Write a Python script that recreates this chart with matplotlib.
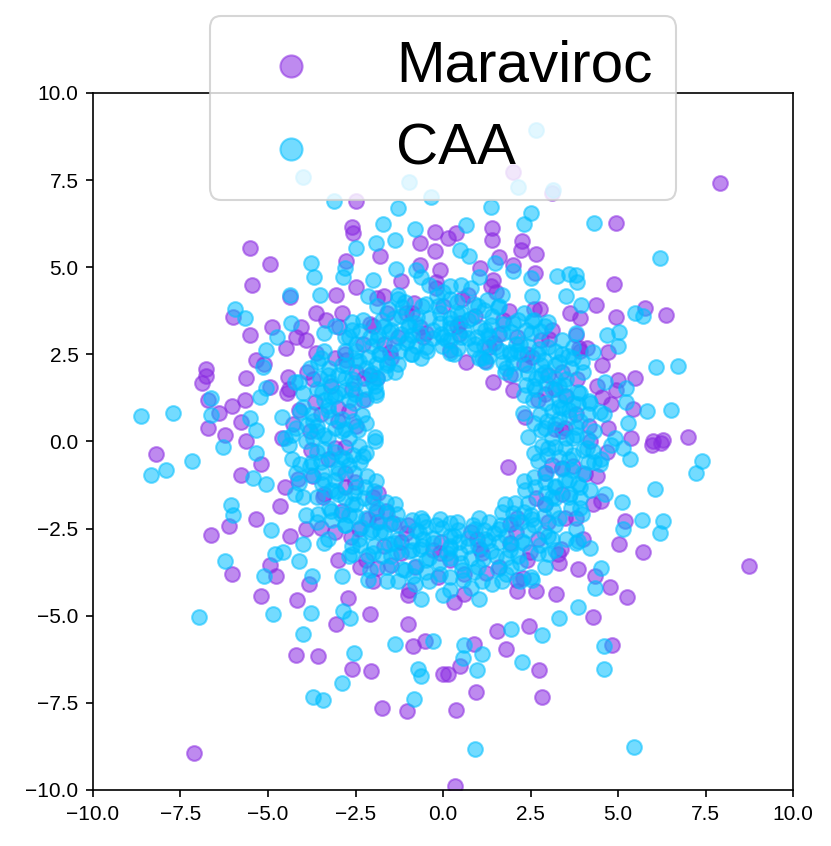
import matplotlib
matplotlib.use('Agg')
import matplotlib.pyplot as plt

plt.rcParams['font.family'] = ['Liberation Sans', 'DejaVu Sans']

# points (x, y), ring core + scattered outliers
maraviroc_pts = [
    # outliers / sparse
    (-5.52, 5.56), (-4.93, 5.08), (-5.47, 4.49), (-2.48, 6.91), (-2.59, 6.16), (-2.57, 5.99),
    (-0.24, 6.02), (-0.65, 5.70), (-0.24, 5.47), (-2.78, 5.18), (-1.81, 5.32), (-0.67, 5.06),
    (-4.38, 4.15), (-6.00, 3.58), (-3.62, 3.68), (-4.89, 3.29), (-5.52, 3.05), (-4.05, 3.29),
    (-4.19, 3.01), (-5.33, 2.34), (-5.12, 2.22), (-4.48, 2.67), (-6.76, 2.07), (-6.78, 1.88),
    (-6.88, 1.69), (-5.64, 1.81), (-6.71, 1.19), (-6.40, 0.81), (-6.02, 1.03), (-5.67, 1.19),
    (-6.71, 0.38), (-6.24, 0.19), (-5.76, 0.57), (-4.43, 1.86), (-4.46, 1.38), (-4.95, 1.57),
    (-3.05, 4.20), (-2.48, 4.44), (-1.90, 4.11), (-1.05, 3.68), (-3.62, 2.53), (-2.76, 2.34),
    (-1.90, 1.81), (-2.48, 0.43), (-2.29, 1.19), (-3.33, 3.49), (-0.10, 4.92),
    (7.91, 7.42), (4.93, 6.28), (4.88, 4.51), (4.38, 3.92), (5.78, 3.82), (6.36, 3.63),
    (4.93, 3.58), (0.14, 5.83), (0.38, 5.97), (1.41, 6.12), (1.41, 5.78), (2.27, 5.75),
    (2.24, 5.49), (2.65, 5.38), (1.60, 5.30), (2.00, 5.06), (2.62, 4.84), (1.05, 4.99),
    (1.43, 4.63), (3.10, 7.12), (2.00, 7.73), (3.62, 3.68), (3.90, 3.53), (3.81, 3.06),
    (4.10, 2.67), (4.71, 2.58), (4.55, 2.19), (5.00, 1.76), (5.48, 1.81), (4.95, 1.48),
    (5.43, 0.92), (4.81, 1.08), (7.00, 0.14), (6.29, 0.04), (6.00, 0.00), (5.38, 0.09),
    (1.43, 1.72), (2.00, 1.48), (2.33, 0.71), (0.67, 2.29), (0.19, 2.63),
    (-8.19, -0.35), (-5.78, -0.97), (-5.35, -2.21), (-6.62, -2.68), (-6.10, -2.43),
    (-6.02, -3.79), (-5.19, -4.43), (-4.78, -3.86), (-4.95, -3.54), (-4.16, -4.55),
    (-4.21, -6.13), (-3.57, -6.16), (-3.07, -5.25), (-2.59, -6.54), (-2.05, -6.59),
    (-1.75, -7.64), (-1.02, -7.73), (-0.86, -5.87), (-7.10, -8.93), (-2.08, -4.96),
    (-2.71, -4.48), (-3.83, -4.10), (-4.67, -1.85), (-5.19, -0.66), (-5.62, 0.01),
    (0.00, -6.68), (-0.52, -5.72), (-1.00, -5.25), (-4.38, -2.71), (-1.86, -1.47),
    (-1.62, -1.99), (-1.43, -2.33), (-1.90, -3.62),
    (8.74, -3.57), (6.24, -0.03), (5.98, -0.10), (1.86, -0.73), (5.70, -3.16),
    (5.03, -2.93), (5.19, -2.28), (4.76, -4.18), (5.27, -4.46), (4.33, -3.86), (4.29, -5.03),
    (4.84, -5.84), (2.74, -6.55), (2.84, -7.33), (1.81, -5.96), (0.93, -7.18), (0.38, -7.71),
    (0.33, -9.89), (0.14, -6.68), (0.48, -6.44), (0.88, -5.82), (1.55, -5.44), (2.46, -5.29),
    (3.29, -3.24), (2.67, -4.29), (3.24, -4.39), (3.86, -3.67), (2.29, -3.91),
    # ring core
    (-1.3, 3.0), (-0.9, 3.7), (-0.5, 3.1), (0.0, 3.9), (0.4, 3.3), (0.9, 3.6), (1.3, 2.7),
    (1.7, 3.5), (2.1, 3.0), (2.4, 2.5), (2.8, 2.9), (3.0, 1.9), (3.4, 2.0), (3.5, 1.3),
    (3.8, 0.8), (3.4, 0.3), (4.2, 0.0), (3.7, -0.7), (4.4, -1.0), (3.4, -1.5), (3.8, -2.2),
    (3.0, -2.3), (2.7, -2.8), (2.4, -3.4), (1.9, -2.9), (1.6, -3.6), (1.1, -3.2), (0.6, -3.8),
    (0.2, -3.4), (-0.3, -3.1), (-0.8, -3.6), (-1.2, -3.2), (-1.7, -3.0), (-2.2, -3.4),
    (-2.4, -2.5), (-2.9, -2.0), (-3.1, -2.6), (-3.4, -1.5), (-3.7, -1.0), (-3.3, -0.5),
    (-3.8, 0.3), (-3.5, 0.8), (-4.1, 0.9), (-3.2, 1.6), (-3.7, 1.8), (-2.8, 2.5), (-2.3, 2.8),
    (-2.0, 3.3), (-1.6, 3.7), (-0.2, 4.4), (0.7, 4.2), (1.5, 4.3), (2.6, 3.8), (3.1, 3.2),
    (3.9, 2.6), (4.4, 1.6), (4.7, 0.4), (4.5, -1.7), (4.0, -2.8), (3.3, -3.5), (2.1, -4.3),
    (0.3, -4.6), (-1.0, -4.4), (-2.0, -4.0), (-3.0, -3.4), (-3.9, -2.5), (-4.5, -1.3),
    (-4.6, 0.1), (-4.4, 1.5), (-3.9, 2.9), (-2.9, 3.7), (-1.2, 4.6), (-2.6, 1.5), (-2.1, 1.9),
    (-1.5, 2.4), (1.9, 1.9), (2.7, 1.2), (2.9, -0.9), (2.1, -2.2), (-1.0, -2.4), (-2.0, -1.6),
    (-2.8, -0.9), (-3.0, 0.6), (0.8, -2.6), (-1.9, -2.3), (1.2, 2.3),
    (3.49, 0.39), (3.19, 1.50), (2.53, 2.43), (1.60, 3.09), (0.49, 3.39), (-0.65, 3.29),
    (-1.69, 2.80), (-2.50, 1.99), (-2.99, 0.95), (-3.09, -0.19), (-2.79, -1.30), (-2.13, -2.23),
    (-1.20, -2.89), (-0.09, -3.19), (1.05, -3.09), (2.09, -2.60), (2.90, -1.79), (3.39, -0.75),
    (3.19, 0.36), (2.92, 1.37), (2.32, 2.22), (1.47, 2.82), (0.46, 3.09), (-0.58, 3.00),
    (-1.52, 2.56), (-2.26, 1.82), (-2.70, 0.88), (-2.79, -0.16), (-2.52, -1.17), (-1.92, -2.02),
    (-1.07, -2.62), (-0.06, -2.89), (0.98, -2.80), (1.92, -2.36), (2.66, -1.62), (3.10, -0.68),
    (4.18, 0.45), (3.83, 1.79), (3.03, 2.93), (1.89, 3.73), (0.55, 4.08), (-0.84, 3.96),
    (-2.09, 3.38), (-3.08, 2.39), (-3.66, 1.14), (-3.78, -0.25), (-3.43, -1.59), (-2.63, -2.73),
    (-1.49, -3.53), (-0.15, -3.88), (1.24, -3.76), (2.49, -3.18), (3.48, -2.19), (4.06, -0.94),
    (4.55, 1.27), (3.89, 2.68), (2.78, 3.79), (1.37, 4.45), (-0.19, 4.58), (-1.70, 4.18),
    (-2.98, 3.28), (-3.88, 2.00), (-4.28, 0.49), (-4.15, -1.07), (-3.49, -2.48), (-2.38, -3.59),
    (-0.97, -4.25), (0.59, -4.38), (2.10, -3.98), (3.38, -3.08), (4.28, -1.80), (4.68, -0.29),
]

caa_pts = [
    # outliers / sparse
    (-3.12, 6.91), (-1.29, 6.69), (-1.71, 6.23), (-0.81, 6.09), (-1.92, 5.69), (-1.38, 5.78),
    (-2.50, 5.54), (-3.78, 5.11), (-3.69, 4.71), (-2.81, 4.97), (-2.86, 4.73), (-1.33, 4.94),
    (-0.78, 4.92), (-4.38, 4.20), (-5.95, 3.79), (-5.67, 3.55), (-3.52, 4.20), (-4.33, 3.41),
    (-4.73, 3.01), (-5.05, 2.63), (-5.14, 2.15), (-6.62, 1.24), (-5.05, 1.53), (-5.24, 1.29),
    (-8.62, 0.74), (-7.70, 0.83), (-6.62, 0.76), (-5.52, 0.66), (-5.33, 0.33), (-1.95, 0.14),
    (-1.92, 1.43), (-1.90, 1.81), (-2.00, 4.63), (-0.33, 7.02), (-4.00, 7.59), (-0.97, 7.45),
    (1.36, 6.74), (2.52, 6.57), (2.31, 6.24), (0.67, 6.21), (4.31, 6.28), (6.21, 5.27),
    (2.14, 7.31), (3.14, 7.22), (2.66, 8.94), (0.48, 5.49), (0.74, 5.32), (1.48, 5.13),
    (2.00, 4.90), (3.26, 4.76), (3.60, 4.80), (3.81, 4.78), (3.83, 4.59), (3.50, 4.18),
    (3.95, 3.92), (2.50, 4.68), (5.48, 3.70), (5.70, 3.60), (4.69, 3.06), (5.03, 3.15),
    (5.00, 2.74), (6.08, 2.15), (6.71, 2.18), (5.22, 1.53), (5.22, 1.14), (5.83, 0.88),
    (6.52, 0.90), (5.29, 0.54), (1.24, 2.29), (2.29, 0.81), (2.43, 0.14), (3.71, 2.72),
    (4.29, 2.58),
    (-7.16, -0.56), (-8.33, -0.97), (-7.92, -0.83), (-6.29, -0.16), (-6.05, -1.82),
    (-6.00, -2.11), (-6.24, -3.43), (-6.97, -5.04), (-5.10, -3.86), (-4.86, -4.94),
    (-3.76, -4.93), (-4.00, -5.53), (-2.55, -6.08), (-2.88, -6.94), (-3.71, -7.33),
    (-3.43, -7.43), (-0.84, -7.40), (-0.71, -6.54), (-0.62, -6.73), (-1.38, -5.80),
    (-0.29, -5.72), (-4.90, -2.55), (-4.81, -3.22), (-4.57, -3.16), (-4.10, -3.43),
    (-3.73, -3.86), (-2.90, -3.86), (-2.86, -4.86), (-2.67, -5.06), (-5.43, -1.04),
    (-5.05, -1.23), (-5.33, -0.32), (-4.00, -2.95), (-0.57, -2.28), (-0.10, -2.23),
    (-1.95, 0.01), (-2.29, -0.42),
    (7.41, -0.56), (7.24, -0.89), (6.06, -1.37), (5.68, -2.25), (6.29, -2.28), (6.19, -2.64),
    (4.52, -3.62), (4.33, -4.19), (3.86, -4.75), (3.31, -5.06), (2.84, -5.55), (2.26, -6.32),
    (0.98, -6.57), (0.59, -5.84), (0.57, -6.22), (1.11, -6.11), (4.60, -5.87), (4.60, -6.52),
    (0.90, -8.81), (5.46, -8.77), (1.95, -5.39), (5.14, -2.52), (4.19, -3.05), (3.86, -2.86),
    (5.10, -1.73), (5.33, -0.51), (5.14, -0.18),
    # ring core
    (-1.5, 3.2), (-1.2, 3.6), (-1.0, 2.9), (-0.8, 3.4), (-0.6, 3.9), (-0.5, 2.7), (-0.3, 3.2),
    (-0.1, 3.7), (0.1, 2.9), (0.2, 3.4), (0.4, 4.0), (0.5, 3.0), (0.7, 3.5), (0.9, 2.8),
    (1.0, 3.9), (1.2, 3.2), (1.4, 3.6), (1.5, 2.7), (-1.3, 4.1), (0.0, 4.3), (0.8, 4.4),
    (-0.4, 4.5), (-0.9, 2.5), (0.3, 2.5), (1.1, 2.4),
    (1.7, 3.1), (1.9, 2.5), (2.0, 3.4), (2.2, 2.8), (2.4, 2.2), (2.5, 3.1), (2.7, 2.5),
    (2.8, 1.9), (3.0, 2.7), (3.1, 1.5), (3.2, 2.2), (3.3, 1.2), (3.5, 1.8), (3.6, 0.9),
    (2.3, 3.7), (2.9, 3.3), (3.7, 2.4), (3.9, 1.4), (1.8, 2.1), (2.6, 1.6), (4.0, 2.0), (3.4, 2.9),
    (3.2, 0.5), (3.5, 0.1), (3.7, -0.4), (3.4, -0.8), (3.9, 0.6), (4.1, -0.2), (4.3, 0.3),
    (4.0, -0.9), (4.5, -0.5), (3.0, -0.2), (4.6, 0.8), (4.8, -0.1), (3.3, 1.0), (2.9, 0.4),
    (3.2, -1.3), (3.6, -1.6), (2.9, -1.8), (3.3, -2.2), (2.6, -2.4), (3.0, -2.7), (2.3, -2.9),
    (2.7, -3.2), (1.9, -3.1), (2.2, -3.5), (1.5, -3.3), (1.8, -3.8), (1.2, -2.8), (1.0, -3.6),
    (3.9, -1.9), (3.5, -2.8), (2.5, -3.9), (1.4, -4.1), (2.0, -2.3), (3.8, -2.5), (4.2, -1.4),
    (2.9, -3.6), (1.6, -2.5),
    (0.7, -3.0), (0.5, -3.5), (0.3, -2.7), (0.1, -3.2), (-0.1, -3.8), (-0.3, -2.9), (-0.5, -3.4),
    (-0.7, -2.6), (-0.9, -3.1), (-1.1, -3.7), (-1.3, -2.8), (-1.5, -3.3), (0.8, -4.2), (0.0, -4.4),
    (-0.8, -4.1), (0.4, -2.3), (-0.2, -2.4), (0.9, -2.5),
    (-1.8, -2.6), (-2.0, -3.2), (-2.2, -2.2), (-2.4, -2.8), (-2.6, -1.8), (-2.8, -2.4),
    (-3.0, -1.5), (-3.2, -2.0), (-3.4, -1.1), (-3.6, -1.6), (-3.8, -0.7), (-2.1, -3.7),
    (-2.7, -3.3), (-3.3, -2.8), (-3.9, -2.1), (-4.1, -1.2), (-1.9, -1.9), (-2.5, -1.3),
    (-3.0, -0.9), (-4.3, -0.5), (-1.6, -4.0),
    (-3.1, -0.3), (-3.4, 0.2), (-3.7, 0.6), (-3.3, 0.9), (-3.9, 0.0), (-4.2, 0.4), (-2.9, 0.3),
    (-3.6, -0.3), (-4.4, -0.1), (-4.0, 1.0), (-2.8, -0.5), (-4.6, 0.7), (-3.2, 1.3),
    (-3.6, 1.5), (-3.3, 1.9), (-3.0, 1.4), (-2.9, 2.2), (-2.6, 1.8), (-2.5, 2.6), (-2.2, 2.1),
    (-2.1, 3.0), (-1.8, 2.5), (-1.7, 3.3), (-3.8, 2.1), (-3.4, 2.6), (-2.8, 3.0), (-2.3, 3.5),
    (-1.9, 3.9), (-4.1, 1.7), (-2.7, 1.2), (-1.6, 2.2), (-3.1, 3.3), (-2.0, 1.7),
    (-1.4, 2.8), (-0.7, 3.1), (0.0, 3.0), (0.6, 3.2), (1.3, 3.0), (2.1, 2.6), (2.8, 2.2),
    (3.3, 1.6), (3.7, 1.1), (3.8, 0.2), (3.6, -1.1), (3.1, -1.6), (2.5, -2.1), (1.8, -2.7),
    (1.0, -3.0), (0.2, -3.0), (-0.6, -3.0), (-1.4, -2.9), (-2.1, -2.6), (-2.7, -2.1),
    (-3.2, -1.4), (-3.5, -0.6), (-3.6, 0.3), (-3.4, 1.2), (-3.0, 1.9), (-2.4, 2.3), (-1.9, 2.9),
    (-1.0, 3.3), (0.4, 3.7), (1.6, 3.9), (2.6, 3.5), (3.4, 2.5), (4.2, 1.1), (4.3, -0.6),
    (3.9, -1.3), (3.2, -3.1), (2.2, -4.0), (1.1, -4.0), (-0.4, -4.0), (-1.6, -3.6), (-2.6, -3.0),
    (-3.6, -2.3), (-4.0, -1.6), (-4.2, -0.9), (-4.3, 0.2), (-4.0, 1.4), (-3.5, 2.4), (-2.6, 3.2),
    (-1.1, 4.0), (0.5, 4.5),
    # ring core, further passes (inner edge to outer edge)
    (2.79, 0.33), (2.56, 1.20), (2.04, 1.94), (1.30, 2.46), (0.43, 2.69), (-0.47, 2.61),
    (-1.29, 2.23), (-1.93, 1.59), (-2.31, 0.77), (-2.39, -0.13), (-2.16, -1.00), (-1.64, -1.74),
    (-0.90, -2.26), (-0.03, -2.49), (0.87, -2.41), (1.69, -2.03), (2.33, -1.39), (2.71, -0.57),
    (3.10, 0.88), (2.66, 1.82), (1.92, 2.56), (0.98, 3.00), (-0.06, 3.09), (-1.07, 2.82),
    (-1.92, 2.22), (-2.52, 1.37), (-2.79, 0.36), (-2.70, -0.68), (-2.26, -1.62), (-1.52, -2.36),
    (-0.58, -2.80), (0.46, -2.89), (1.47, -2.62), (2.32, -2.02), (2.92, -1.17), (3.19, -0.16),
    (3.70, 0.10), (3.49, 1.30), (2.88, 2.35), (1.95, 3.13), (0.81, 3.55), (-0.41, 3.55),
    (-1.55, 3.13), (-2.48, 2.35), (-3.09, 1.30), (-3.30, 0.10), (-3.09, -1.10), (-2.48, -2.15),
    (-1.55, -2.93), (-0.41, -3.35), (0.81, -3.35), (1.95, -2.93), (2.88, -2.15), (3.49, -1.10),
    (4.14, 0.80), (3.66, 2.10), (2.77, 3.16), (1.57, 3.86), (0.20, 4.10), (-1.17, 3.86),
    (-2.37, 3.16), (-3.26, 2.10), (-3.74, 0.80), (-3.74, -0.60), (-3.26, -1.90), (-2.37, -2.96),
    (-1.17, -3.66), (0.20, -3.90), (1.57, -3.66), (2.77, -2.96), (3.66, -1.90), (4.14, -0.60),
    (2.96, 0.59), (2.62, 1.50), (2.00, 2.24), (1.16, 2.73), (0.20, 2.90), (-0.76, 2.73),
    (-1.60, 2.24), (-2.22, 1.50), (-2.56, 0.59), (-2.56, -0.39), (-2.22, -1.30), (-1.60, -2.04),
    (-0.76, -2.53), (0.20, -2.70), (1.16, -2.53), (2.00, -2.04), (2.62, -1.30), (2.96, -0.39),
    (3.87, 1.08), (3.31, 2.28), (2.38, 3.21), (1.18, 3.77), (-0.13, 3.88), (-1.41, 3.54),
    (-2.49, 2.79), (-3.24, 1.71), (-3.59, 0.43), (-3.47, -0.88), (-2.91, -2.08), (-1.98, -3.01),
    (-0.78, -3.57), (0.53, -3.69), (1.81, -3.34), (2.89, -2.59), (3.64, -1.51), (3.99, -0.23),
    (2.61, 0.53), (2.32, 1.33), (1.78, 1.98), (1.04, 2.40), (0.20, 2.55), (-0.64, 2.40),
    (-1.38, 1.98), (-1.92, 1.33), (-2.21, 0.53), (-2.21, -0.33), (-1.92, -1.13), (-1.38, -1.78),
    (-0.64, -2.20), (0.20, -2.35), (1.04, -2.20), (1.78, -1.78), (2.32, -1.13), (2.61, -0.33),
    (3.10, 0.10), (2.93, 1.09), (2.42, 1.96), (1.65, 2.61), (0.70, 2.96), (-0.30, 2.96),
    (-1.25, 2.61), (-2.02, 1.96), (-2.53, 1.09), (-2.70, 0.10), (-2.53, -0.89), (-2.02, -1.76),
    (-1.25, -2.41), (-0.30, -2.76), (0.70, -2.76), (1.65, -2.41), (2.42, -1.76), (2.93, -0.89),
    (3.30, 0.65), (2.93, 1.68), (2.23, 2.51), (1.28, 3.06), (0.20, 3.25), (-0.88, 3.06),
    (-1.83, 2.51), (-2.53, 1.68), (-2.90, 0.65), (-2.90, -0.45), (-2.53, -1.48), (-1.83, -2.31),
    (-0.88, -2.86), (0.20, -3.05), (1.28, -2.86), (2.23, -2.31), (2.93, -1.48), (3.30, -0.45),
    (3.79, 0.41), (3.46, 1.62), (2.75, 2.65), (1.72, 3.36), (0.51, 3.69), (-0.73, 3.58),
    (-1.87, 3.05), (-2.75, 2.17), (-3.28, 1.03), (-3.39, -0.21), (-3.06, -1.42), (-2.35, -2.45),
    (-1.32, -3.16), (-0.11, -3.49), (1.13, -3.38), (2.27, -2.85), (3.15, -1.97), (3.68, -0.83),
    (4.10, 0.10), (3.87, 1.43), (3.19, 2.61), (2.15, 3.48), (0.88, 3.94), (-0.48, 3.94),
    (-1.75, 3.48), (-2.79, 2.61), (-3.47, 1.43), (-3.70, 0.10), (-3.47, -1.23), (-2.79, -2.41),
    (-1.75, -3.28), (-0.48, -3.74), (0.88, -3.74), (2.15, -3.28), (3.19, -2.41), (3.87, -1.23),
    (4.48, 0.86), (3.97, 2.28), (3.00, 3.43), (1.69, 4.19), (0.20, 4.45), (-1.29, 4.19),
    (-2.60, 3.43), (-3.57, 2.28), (-4.08, 0.86), (-4.08, -0.66), (-3.57, -2.08), (-2.60, -3.23),
    (-1.29, -3.99), (0.20, -4.25), (1.69, -3.99), (3.00, -3.23), (3.97, -2.08), (4.48, -0.66),
    (3.39, 0.95), (2.90, 1.99), (2.09, 2.80), (1.05, 3.29), (-0.09, 3.39), (-1.19, 3.09),
    (-2.13, 2.43), (-2.79, 1.49), (-3.09, 0.39), (-2.99, -0.75), (-2.50, -1.79), (-1.69, -2.60),
    (-0.65, -3.09), (0.49, -3.19), (1.59, -2.89), (2.53, -2.23), (3.19, -1.29), (3.49, -0.19),
    (2.76, 0.79), (2.37, 1.62), (1.72, 2.27), (0.89, 2.66), (-0.03, 2.74), (-0.92, 2.50),
    (-1.67, 1.97), (-2.20, 1.22), (-2.44, 0.33), (-2.36, -0.59), (-1.97, -1.42), (-1.32, -2.07),
    (-0.49, -2.46), (0.43, -2.54), (1.32, -2.30), (2.07, -1.77), (2.60, -1.02), (2.84, -0.13),
    (4.90, 0.10), (4.62, 1.71), (3.80, 3.12), (2.55, 4.17), (1.02, 4.73), (-0.62, 4.73),
    (-2.15, 4.17), (-3.40, 3.12), (-4.22, 1.71), (-4.50, 0.10), (-4.22, -1.51), (-3.40, -2.92),
    (-2.15, -3.97), (-0.62, -4.53), (1.02, -4.53), (2.55, -3.97), (3.80, -2.92), (4.62, -1.51),
    (4.16, 1.16), (3.56, 2.45), (2.55, 3.46), (1.26, 4.06), (-0.16, 4.18), (-1.53, 3.81),
    (-2.70, 3.00), (-3.51, 1.83), (-3.88, 0.46), (-3.76, -0.96), (-3.16, -2.25), (-2.15, -3.26),
    (-0.86, -3.86), (0.56, -3.98), (1.93, -3.61), (3.10, -2.80), (3.91, -1.63), (4.28, -0.26),
    (3.60, 0.70), (3.19, 1.83), (2.42, 2.74), (1.38, 3.34), (0.20, 3.55), (-0.98, 3.34),
    (-2.02, 2.74), (-2.79, 1.83), (-3.20, 0.70), (-3.20, -0.50), (-2.79, -1.63), (-2.02, -2.54),
    (-0.98, -3.14), (0.20, -3.35), (1.38, -3.14), (2.42, -2.54), (3.19, -1.63), (3.60, -0.50),
]

series = ['Maraviroc', 'CAA']
colors = {'Maraviroc': 'blueviolet', 'CAA': 'deepskyblue'}
points = {'Maraviroc': maraviroc_pts, 'CAA': caa_pts}

fig = plt.figure(figsize=(5.54, 5.64), dpi=150)
ax = fig.add_axes([0.1119, 0.0662, 0.8424, 0.8239])

for name in series:
    xs = [p[0] for p in points[name]]
    ys = [p[1] for p in points[name]]
    ax.scatter(xs, ys, s=50, color=colors[name], alpha=0.55, label=name)

ax.set_xlim(-10, 10)
ax.set_ylim(-10, 10)
ax.tick_params(labelsize=10)
ax.legend(loc='upper center', bbox_to_anchor=(0.5, 1.152), fontsize=28, markerscale=1.5)

fig.savefig('out.png', dpi=150)
